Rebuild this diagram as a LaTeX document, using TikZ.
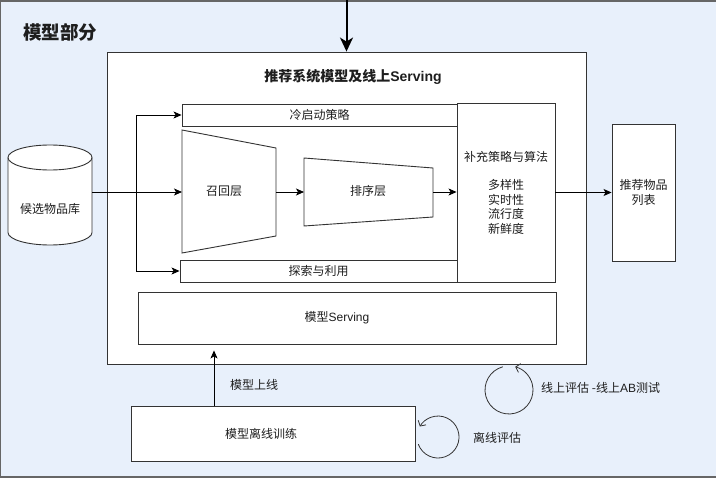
\documentclass[tikz,border=0pt]{standalone}
\usepackage{fontspec}
\setmainfont{Noto Sans CJK SC}
\newfontfamily\lat{Liberation Sans}
\usetikzlibrary{arrows.meta}
\definecolor{bgblue}{RGB}{232,240,251}
\definecolor{stroke}{RGB}{51,51,51}
\definecolor{txt}{RGB}{30,30,30}
\begin{document}
\begin{tikzpicture}[x=1pt,y=-1pt,
  box/.style={draw=stroke, line width=0.9pt, fill=white, inner sep=0pt, font=\fontsize{12}{14.4}\selectfont, text=txt},
  arr/.style={-{Stealth[length=8pt,width=7pt,inset=2pt]}, line width=0.8pt, draw=black},
  bigarr/.style={-{Stealth[length=14pt,width=13pt,inset=4pt]}, line width=2pt, draw=black},
  loopar/.style={-{Straight Barb[length=4pt,width=9pt]}, line width=0.8pt, draw=stroke},
  lbl/.style={font=\fontsize{12}{14.4}\selectfont, text=txt, inner sep=0pt},
  shp/.style={draw=stroke, line width=0.9pt, fill=white}]
\useasboundingbox (0,0) rectangle (716,479);
\clip (0,0) rectangle (716,479);
\fill[white] (0,0) rectangle (716,479);
\draw[fill=bgblue, draw=gray!80!black, line width=1.2pt] (0.6,1) rectangle (740,477);
\node[lbl, anchor=west, font=\bfseries\fontsize{18.5}{21}\selectfont] (parttitle) at (23,32) {模型部分};

% outer system box
\node[box, minimum width=479pt, minimum height=312pt] (outer) at (346.5,208) {};
\node[lbl, font=\bfseries\fontsize{14}{16}\selectfont] (otitle) at (353,77) {推荐系统模型及线上{\lat\bfseries Serving}};

% cold start and explore boxes
\node[box, minimum width=275pt, minimum height=22pt] (cold) at (319.5,115) {冷启动策略};
\node[box, minimum width=277pt, minimum height=22pt] (explore) at (318.5,271) {探索与利用};

% supplementary strategies
\node[box, minimum width=98pt, minimum height=179pt, align=center] (supp) at (506,192.5)
  {补充策略与算法\\[14.4pt]多样性\\实时性\\流行度\\新鲜度};

% recall and rank trapezoids
\draw[shp] (182,130) -- (276,148) -- (276,236) -- (182,253) -- cycle;
\node[lbl] (recall) at (224,191) {召回层};
\draw[shp] (304,158) -- (433,168) -- (433,217) -- (304,226) -- cycle;
\node[lbl] (rank) at (368,191) {排序层};
\coordinate (recW) at (182,192);
\coordinate (recE) at (276,192);
\coordinate (rankW) at (304,192);
\coordinate (rankE) at (433,192);

% result list
\node[box, minimum width=63pt, minimum height=137pt, align=center] (list) at (643.5,192.5) {推荐物品\\列表};

% candidate database cylinder
\draw[shp] (8,157.5) -- (8,232.5) arc[start angle=180, end angle=0, x radius=42, y radius=12.5]
  -- (92,157.5) arc[start angle=0, end angle=-180, x radius=42, y radius=12.5] -- cycle;
\draw[shp, fill=none] (8,157.5) arc[start angle=180, end angle=0, x radius=42, y radius=12.5];
\node[lbl] (cand) at (50,209) {候选物品库};
\coordinate (cylE) at (92,192);
\coordinate (br) at (136,192);

% serving and offline training
\node[box, minimum width=418pt, minimum height=52pt] (serving) at (347,318) {};
\node[lbl] (servtxt) at (337,318) {模型{\lat Serving}};
\node[box, minimum width=284pt, minimum height=55pt] (offline) at (273,433.5) {};
\node[lbl] (offtxt) at (261,434) {模型离线训练};

% connectors
\coordinate (topin) at (346.5,0);
\draw[bigarr] (topin) -- (outer.north);
\draw[arr] (cylE) -- (recW);
\draw[arr] (br) |- (cold.west);
\draw[arr] (br) |- (explore.west);
\draw[arr] (recE) -- (rankW);
\draw[arr] (rankE) -- (rankE -| supp.west);
\draw[arr] (supp.east) -- (list.west);
\coordinate (upx) at (214,0);
\draw[arr, shorten >=6pt] (offline.north -| upx) -- (serving.south -| upx);
\node[lbl, anchor=west] (uplbl) at (230,385) {模型上线};

% evaluation loops
\coordinate (offS) at (418.3,444.2);
\draw[loopar] (offS) arc[start angle=160, end angle=-150, radius=21];
\node[lbl, anchor=west] (offlbl) at (473,438) {离线评估};
\coordinate (onS) at (502.8,366.8);
\draw[loopar] (onS) arc[start angle=-105, end angle=-435, radius=24];
\node[lbl, anchor=west] (onlbl) at (541,388) {线上评估 -线上{\lat AB}测试};
\end{tikzpicture}
\end{document}
